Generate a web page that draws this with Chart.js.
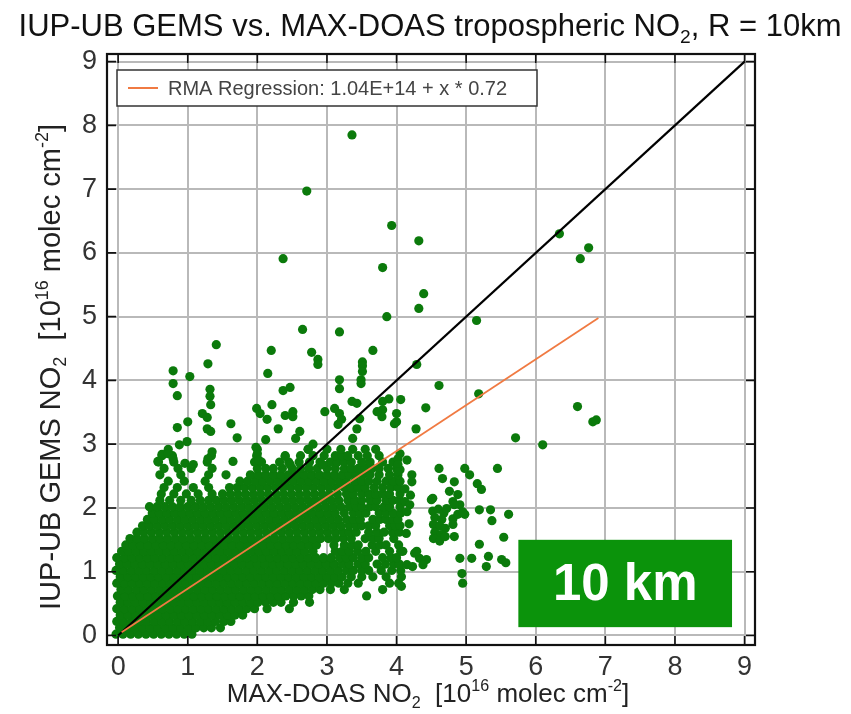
<!DOCTYPE html>
<html>
<head>
<meta charset="utf-8">
<script src="https://cdn.jsdelivr.net/npm/chart.js@4.4.1/dist/chart.umd.min.js"></script>
<style>
  html, body { margin: 0; padding: 0; background: #fff; }
  #wrap { width: 851px; height: 714px; }
</style>
</head>
<body>
<div id="wrap"><canvas id="c" width="851" height="714"></canvas></div>
<script>
// tick values (both axes)
const xTicks = [0, 1, 2, 3, 4, 5, 6, 7, 8, 9];
const yTicks = [0, 1, 2, 3, 4, 5, 6, 7, 8, 9];

// 1:1 line and RMA regression line (units of 1e16 molec cm-2)
const oneToOneX = [0, 9];
const oneToOneY = [0, 9];
const rmaX = [0.05, 6.9];
const rmaY = [0.05, 4.98];
const rmaLabel = 'RMA Regression: 1.04E+14 + x * 0.72';

// dense part of the cloud, read row by row: [GEMS value, [MAX-DOAS values]]
const cloudRows = [
  [0.02, [-0.03,0.07,0.18,0.29,0.4,0.51,0.62,0.73,0.84,0.95,1.06]],
  [0.12, [0.02,0.13,0.24,0.35,0.46,0.57,0.68,0.79,0.9,1.01,1.12,1.23,1.34,1.47]],
  [0.22, [-0.02,0.08,0.19,0.3,0.41,0.52,0.63,0.74,0.85,0.96,1.07,1.18,1.29,1.4,1.52,1.62]],
  [0.32, [0.03,0.14,0.25,0.36,0.47,0.58,0.69,0.8,0.91,1.02,1.13,1.24,1.35,1.46,1.57,1.68,1.79]],
  [0.42, [-0.02,0.09,0.2,0.31,0.42,0.53,0.64,0.75,0.86,0.97,1.08,1.19,1.3,1.41,1.52,1.63,1.74,1.85,1.96,2.14,2.46]],
  [0.52, [0.03,0.14,0.25,0.36,0.47,0.58,0.69,0.8,0.91,1.02,1.13,1.24,1.35,1.46,1.57,1.68,1.79,1.9,2.01,2.12,2.23,2.34,2.52,2.75]],
  [0.62, [-0.01,0.1,0.21,0.32,0.43,0.54,0.65,0.76,0.87,0.98,1.09,1.2,1.31,1.42,1.53,1.64,1.75,1.86,1.97,2.08,2.19,2.3,2.41,2.52,2.63,2.74,3.57]],
  [0.72, [0.04,0.15,0.26,0.37,0.48,0.59,0.7,0.81,0.92,1.03,1.14,1.25,1.36,1.47,1.58,1.69,1.8,1.91,2.02,2.13,2.24,2.35,2.46,2.57,2.68,2.79,2.9,3.05,3.25,3.8]],
  [0.82, [-0.02,0.09,0.2,0.31,0.42,0.53,0.64,0.75,0.86,0.97,1.08,1.19,1.3,1.41,1.52,1.63,1.74,1.85,1.96,2.07,2.18,2.29,2.4,2.51,2.62,2.73,2.84,2.95,3.06,3.17,3.3,3.45,3.9,4.03]],
  [0.92, [0.03,0.14,0.25,0.36,0.47,0.58,0.69,0.8,0.91,1.02,1.13,1.24,1.35,1.46,1.57,1.68,1.79,1.9,2.01,2.12,2.23,2.34,2.45,2.56,2.67,2.78,2.89,3.0,3.11,3.22,3.35,3.5,3.66,3.85,4.07]],
  [1.02, [-0.03,0.08,0.19,0.3,0.41,0.52,0.63,0.74,0.85,0.96,1.07,1.18,1.29,1.4,1.51,1.62,1.73,1.84,1.95,2.06,2.17,2.28,2.39,2.5,2.61,2.72,2.83,2.94,3.05,3.16,3.28,3.38,3.5,3.6,3.78,3.93,4.06]],
  [1.12, [0.02,0.13,0.24,0.35,0.46,0.57,0.68,0.79,0.9,1.01,1.12,1.23,1.34,1.45,1.56,1.67,1.78,1.89,2.0,2.11,2.22,2.33,2.44,2.55,2.66,2.77,2.88,2.99,3.1,3.22,3.32,3.45,3.55,3.72,3.84,3.96,4.04]],
  [1.22, [-0.02,0.09,0.2,0.31,0.42,0.53,0.64,0.75,0.86,0.97,1.08,1.19,1.3,1.41,1.52,1.63,1.74,1.85,1.96,2.07,2.18,2.29,2.4,2.51,2.62,2.73,2.84,2.95,3.06,3.18,3.28,3.38,3.5,3.6,3.8,3.92,4.0]],
  [1.32, [0.05,0.15,0.26,0.37,0.48,0.59,0.7,0.81,0.92,1.03,1.14,1.25,1.36,1.47,1.58,1.69,1.8,1.91,2.02,2.13,2.24,2.35,2.46,2.57,2.68,2.8,3.12,3.22,3.32,3.44,3.56,3.7,3.9,4.06]],
  [1.42, [0.11,0.21,0.32,0.43,0.54,0.65,0.76,0.87,0.98,1.09,1.2,1.31,1.42,1.53,1.64,1.75,1.86,1.97,2.08,2.19,2.3,2.41,2.52,2.63,2.74,2.85,3.1,3.25,3.36,3.45,3.65,3.76,3.85,4.03]],
  [1.52, [0.17,0.27,0.38,0.49,0.6,0.71,0.82,0.93,1.04,1.15,1.26,1.37,1.48,1.59,1.7,1.81,1.92,2.03,2.14,2.25,2.36,2.47,2.58,2.69,2.8,2.91,3.02,3.13,3.24,3.35,3.55,3.66,3.75,3.96]],
  [1.62, [0.27,0.37,0.48,0.59,0.7,0.81,0.92,1.03,1.14,1.25,1.36,1.47,1.58,1.69,1.8,1.91,2.02,2.13,2.24,2.35,2.46,2.57,2.68,2.79,2.9,3.01,3.12,3.23,3.32,3.42,3.6,3.72,3.82,3.94,4.04]],
  [1.72, [0.35,0.45,0.56,0.67,0.78,0.89,1.0,1.11,1.22,1.33,1.44,1.55,1.66,1.77,1.88,1.99,2.1,2.21,2.32,2.43,2.54,2.65,2.76,2.87,2.98,3.09,3.2,3.32,3.42,3.5,3.6,3.7,3.9,3.98,4.05]],
  [1.82, [0.42,0.52,0.63,0.74,0.85,0.96,1.07,1.18,1.29,1.4,1.51,1.62,1.73,1.84,1.95,2.06,2.17,2.28,2.39,2.5,2.61,2.72,2.83,2.94,3.05,3.16,3.28,3.38,3.48,3.66,3.76,3.85,3.95,4.02]],
  [1.92, [0.49,0.59,0.7,0.81,0.92,1.03,1.14,1.25,1.36,1.47,1.58,1.69,1.8,1.91,2.02,2.13,2.24,2.35,2.46,2.57,2.68,2.79,2.9,3.01,3.12,3.25,3.38,3.47,3.56,3.75,3.85,3.95,4.06]],
  [2.02, [0.45,0.56,0.67,0.78,0.89,1.0,1.11,1.22,1.33,1.44,1.55,1.66,1.77,1.88,1.99,2.1,2.21,2.32,2.43,2.54,2.65,2.76,2.87,2.98,3.09,3.2,3.32,3.42,3.5,3.62,3.7,3.82,3.9,4.05]],
  [2.12, [0.6,0.74,0.9,1.05,1.18,1.3,1.41,1.52,1.63,1.74,1.85,1.96,2.07,2.18,2.29,2.4,2.51,2.62,2.73,2.84,2.95,3.06,3.17,3.3,3.4,3.5,3.62,3.72,3.85,3.95,4.04]],
  [2.22, [0.62,0.8,0.98,1.15,1.35,1.5,1.61,1.72,1.83,1.94,2.05,2.16,2.27,2.38,2.49,2.6,2.71,2.82,2.93,3.04,3.15,3.28,3.38,3.5,3.6,3.7,3.8,3.9,4.05]],
  [2.32, [0.66,0.85,1.08,1.3,1.6,1.71,1.82,1.93,2.04,2.15,2.26,2.37,2.48,2.59,2.7,2.81,2.92,3.03,3.14,3.25,3.35,3.45,3.55,3.68,3.8,3.92,4.02]],
  [2.42, [0.72,0.95,1.25,1.75,1.86,1.97,2.08,2.19,2.3,2.41,2.52,2.63,2.74,2.85,2.96,3.07,3.18,3.28,3.4,3.5,3.6,3.72,3.85,3.95,4.05]],
  [2.52, [0.6,0.9,1.3,1.55,1.9,2.01,2.12,2.23,2.34,2.45,2.56,2.67,2.78,2.89,3.0,3.11,3.22,3.32,3.42,3.52,3.62,3.75,3.9,4.02]],
  [2.62, [0.66,0.86,1.05,1.35,2.0,2.12,2.23,2.36,2.5,2.62,2.74,2.86,3.0,3.12,3.25,3.35,3.45,3.55,3.65,3.75,3.88,4.0]],
  [2.72, [0.58,0.8,1.28,1.96,2.06,2.32,2.45,2.6,2.75,2.9,3.05,3.15,3.25,3.35,3.5,3.62,3.8,3.95]],
  [2.82, [0.63,0.78,1.34,1.99,2.4,2.62,2.8,2.96,3.12,3.22,3.3,3.45,3.58,3.75]],
  [2.92, [0.72,2.0,2.73,3.0,3.2,3.37,3.55,3.7]]
];

// scattered points outside the dense cloud: [MAX-DOAS, GEMS]
const sparsePts = [
  [3.36,7.85],[2.71,6.97],[3.93,6.43],[4.32,6.19],[2.37,5.91],[3.80,5.77],[4.39,5.36],[4.32,5.13],
  [3.86,5.0],[5.15,4.94],[2.65,4.80],[3.18,4.76],[6.34,6.30],[6.64,5.91],[6.76,6.08],
  [4.29,4.25],[4.61,3.92],[5.18,3.79],[6.60,3.59],[6.82,3.35],[6.87,3.38],[5.71,3.10],[6.10,2.99],
  [4.42,3.57],[4.28,3.24],[3.89,3.71],[4.06,3.70],[3.97,3.32],[4.0,3.48],
  [4.05,2.85],[4.05,2.6],[4.61,2.62],[4.66,2.46],[4.98,2.62],[5.05,2.52],[5.16,2.38],[5.22,2.29],
  [5.45,2.62],[4.83,2.41],[4.76,2.26],[4.88,2.21],[4.22,2.52],[4.22,2.41],[4.5,2.13],[4.12,2.10],
  [4.19,2.05],[4.15,1.94],[4.52,1.95],[4.6,1.98],[4.68,1.92],[4.55,1.85],[4.65,1.82],[4.53,1.74],
  [4.62,1.72],[4.7,1.68],[4.55,1.62],[4.64,1.58],[4.53,1.52],[4.62,1.48],[4.7,1.55],
  [4.81,2.10],[4.91,2.05],[4.98,1.90],[4.81,1.83],[5.19,1.97],[5.35,1.97],[5.37,1.80],[5.61,1.90],
  [4.83,1.55],[5.19,1.43],[5.54,1.54],[4.91,1.21],[5.08,1.21],[5.32,1.24],[5.29,1.08],[5.51,1.19],
  [5.57,1.14],[4.94,0.97],[4.95,0.82],[4.33,1.21],[4.26,1.29],[4.43,1.19],[4.15,1.11],[4.38,1.11],
  [4.07,0.77],[4.09,1.32],[4.29,1.32],[4.23,1.08],[4.72,1.99],[4.83,2.05],[4.88,1.9],[4.95,1.94],
  [4.81,1.74],[4.15,2.75],[4.12,2.3],[4.18,1.75],[4.14,1.6],[4.2,2.2],[4.52,2.15],
  [1.41,4.56],[2.20,4.47],[2.78,4.44],[2.87,4.33],[2.87,4.25],[1.29,4.26],[2.15,4.11],[0.79,4.15],
  [0.79,3.95],[1.03,4.06],[0.85,3.76],[1.32,3.86],[1.32,3.75],[1.33,3.62],[2.37,3.84],[2.47,3.89],
  [2.21,3.62],[1.99,3.56],[2.04,3.48],[2.40,3.45],[2.51,3.51],[2.51,3.43],[2.14,3.39],[2.97,3.51],
  [1.21,3.48],[1.28,3.42],[1.0,3.35],[0.85,3.26],[1.28,3.24],[1.33,3.20],[1.62,3.32],[2.30,3.24],
  [2.61,3.20],[2.55,3.09],[1.71,3.10],[2.12,3.07],[0.99,3.04],[0.88,2.99],[2.73,2.92],[1.35,2.88],
  [1.29,2.77],[0.63,2.84],[0.57,2.73],[0.72,2.85],[0.79,2.77],[0.96,2.70],[1.08,2.68],[2.40,2.81],
  [2.47,2.68],[2.94,2.68],[1.98,2.95],[2.0,2.85],[2.02,2.75],[1.65,2.73],[2.8,3.0],
  [3.66,4.47],[3.51,4.29],[3.51,4.23],[3.51,4.14],[3.18,4.01],[3.18,3.87],[3.49,4.01],[3.49,3.95],
  [3.36,3.67],[3.43,3.64],[3.11,3.56],[3.18,3.48],[3.21,3.39],[3.16,3.31],[3.80,3.54],[3.79,3.43],
  [3.80,3.67],[3.72,3.51],[4.0,3.35],[3.47,3.40],[3.43,3.24],[3.37,3.09],[4.02,2.77],[4.02,2.68],[4.02,2.57]
];

const cloud = [];
cloudRows.forEach(([y, xs]) => xs.forEach(x => cloud.push({ x, y })));
sparsePts.forEach(([x, y]) => cloud.push({ x, y }));

const FONT = "'Liberation Sans', Arial, Helvetica, sans-serif";

// draws a string made of normal / sub / sup pieces, centred on (0,0) of the current transform
function richText(ctx, parts, size, color) {
  const small = size * 0.62;
  let w = 0;
  parts.forEach(p => {
    ctx.font = (p.sub || p.sup ? small : size) + 'px ' + FONT;
    p.w = ctx.measureText(p.t).width;
    w += p.w;
  });
  let x = -w / 2;
  ctx.fillStyle = color;
  ctx.textBaseline = 'alphabetic';
  ctx.textAlign = 'left';
  parts.forEach(p => {
    ctx.font = (p.sub || p.sup ? small : size) + 'px ' + FONT;
    const dy = p.sub ? size * 0.22 : (p.sup ? -size * 0.42 : 0);
    ctx.fillText(p.t, x, dy);
    x += p.w;
  });
}

const decor = {
  id: 'decor',
  afterDatasetsDraw(chart) {
    const { ctx, chartArea: a, scales: { x, y } } = chart;
    ctx.save();
    // frame
    ctx.strokeStyle = '#111';
    ctx.lineWidth = 2.2;
    ctx.strokeRect(a.left, a.top, a.right - a.left, a.bottom - a.top);
    // inward tick marks
    ctx.lineWidth = 1.6;
    ctx.beginPath();
    xTicks.forEach(v => {
      const px = x.getPixelForValue(v);
      ctx.moveTo(px, a.bottom); ctx.lineTo(px, a.bottom - 9);
      ctx.moveTo(px, a.top); ctx.lineTo(px, a.top + 9);
    });
    yTicks.forEach(v => {
      const py = y.getPixelForValue(v);
      ctx.moveTo(a.left, py); ctx.lineTo(a.left + 9, py);
      ctx.moveTo(a.right, py); ctx.lineTo(a.right - 9, py);
    });
    ctx.stroke();

    // legend box
    const lx = a.left + 10, ly = a.top + 16, lw = 420, lh = 36;
    ctx.fillStyle = '#fff';
    ctx.fillRect(lx, ly, lw, lh);
    ctx.strokeStyle = '#333';
    ctx.lineWidth = 1.5;
    ctx.strokeRect(lx, ly, lw, lh);
    const rmaSet = chart.data.datasets[0];
    ctx.strokeStyle = rmaSet.borderColor;
    ctx.lineWidth = 2;
    ctx.beginPath();
    ctx.moveTo(lx + 11, ly + lh / 2); ctx.lineTo(lx + 41, ly + lh / 2);
    ctx.stroke();
    ctx.fillStyle = '#444';
    ctx.font = '20px ' + FONT;
    ctx.textAlign = 'left';
    ctx.textBaseline = 'middle';
    ctx.fillText(rmaSet.label, lx + 51, ly + lh / 2 + 1);

    // "10 km" box
    const bx0 = x.getPixelForValue(5.75), bx1 = x.getPixelForValue(8.82);
    const by0 = y.getPixelForValue(1.5), by1 = y.getPixelForValue(0.13);
    ctx.fillStyle = '#0b930b';
    ctx.fillRect(bx0, by0, bx1 - bx0, by1 - by0);
    ctx.fillStyle = '#fff';
    ctx.font = 'bold 51px ' + FONT;
    ctx.textAlign = 'center';
    ctx.textBaseline = 'middle';
    ctx.fillText('10 km', (bx0 + bx1) / 2, (by0 + by1) / 2 + 2);
    ctx.restore();
  },
  afterDraw(chart) {
    const { ctx } = chart;
    ctx.save();
    ctx.translate(430, 36);
    richText(ctx, [
      { t: 'IUP-UB GEMS vs. MAX-DOAS tropospheric NO' }, { t: '2', sub: true }, { t: ', R = 10km' }
    ], 31, '#111');
    ctx.restore();

    ctx.save();
    ctx.translate(428, 702);
    richText(ctx, [
      { t: 'MAX-DOAS NO' }, { t: '2', sub: true }, { t: '  [10' }, { t: '16', sup: true },
      { t: ' molec cm' }, { t: '-2', sup: true }, { t: ']' }
    ], 26, '#222');
    ctx.restore();

    ctx.save();
    ctx.translate(60, 367);
    ctx.rotate(-Math.PI / 2);
    richText(ctx, [
      { t: 'IUP-UB GEMS NO' }, { t: '2', sub: true }, { t: '  [10' }, { t: '16', sup: true },
      { t: ' molec cm' }, { t: '-2', sup: true }, { t: ']' }
    ], 29, '#222');
    ctx.restore();
  }
};

const tickFont = { family: FONT, size: 27 };

new Chart(document.getElementById('c'), {
  type: 'scatter',
  data: {
    datasets: [
      {
        label: rmaLabel,
        data: rmaX.map((v, i) => ({ x: v, y: rmaY[i] })),
        showLine: true, borderColor: '#f07a42', borderWidth: 1.8,
        pointRadius: 0, order: 0
      },
      {
        label: '1:1',
        data: oneToOneX.map((v, i) => ({ x: v, y: oneToOneY[i] })),
        showLine: true, borderColor: '#000', borderWidth: 2.2,
        pointRadius: 0, order: 1
      },
      {
        label: 'GEMS vs MAX-DOAS',
        data: cloud,
        pointRadius: 4.6, pointBackgroundColor: '#0b7a0b', pointBorderWidth: 0,
        order: 2
      }
    ]
  },
  options: {
    responsive: false,
    animation: false,
    events: [],
    layout: { padding: { left: 0, right: 96, top: 54, bottom: 0 } },
    plugins: { legend: { display: false }, tooltip: { enabled: false }, title: { display: false } },
    scales: {
      x: {
        type: 'linear', min: -0.16, max: 9.15,
        afterFit(s) { s.height = 69; },
        afterBuildTicks(s) { s.ticks = xTicks.map(v => ({ value: v })); },
        grid: { color: '#b9b9b9', lineWidth: 2, drawTicks: false },
        border: { display: false },
        ticks: { font: tickFont, color: '#333', padding: 6, maxRotation: 0, autoSkip: false }
      },
      y: {
        type: 'linear', min: -0.15, max: 9.12,
        afterFit(s) { s.width = 107; },
        afterBuildTicks(s) { s.ticks = yTicks.map(v => ({ value: v })); },
        grid: { color: '#b9b9b9', lineWidth: 2, drawTicks: false },
        border: { display: false },
        ticks: { font: tickFont, color: '#333', padding: 10, autoSkip: false }
      }
    }
  },
  plugins: [decor]
});
</script>
</body>
</html>
